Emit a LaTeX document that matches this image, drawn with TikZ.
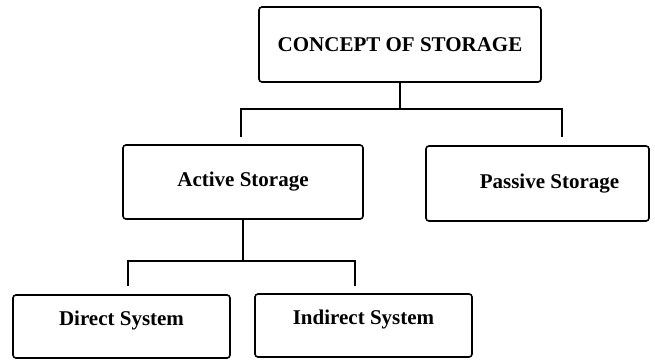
\documentclass[tikz,border=0pt]{standalone}
\usepackage{fontspec}
\setmainfont{Liberation Serif}

\begin{document}
\begin{tikzpicture}[x=1pt, y=-1pt,
    box/.style={draw, line width=1.6pt, rounded corners=3pt, inner sep=2pt,
      font=\fontsize{21}{25}\selectfont\bfseries},
    link/.style={line width=1.6pt}]
  \useasboundingbox (0,0) rectangle (655,360);

  % Top level
  \node[box, minimum width=282, minimum height=75] (concept) at (400,44.5) {CONCEPT OF STORAGE};

  % Second level
  \node[box, minimum width=240, minimum height=74] (active) at (243,182) {Active Storage};
  \node[box, minimum width=223, minimum height=75] (passive) at (537.5,183.5) {\hspace*{24pt}Passive Storage};

  % Third level
  \node[box, minimum width=217, minimum height=63, text depth=16pt] (direct) at (121.5,326.5) {Direct System};
  \node[box, minimum width=217, minimum height=63, text depth=16pt] (indirect) at (363.5,325.5) {Indirect System};

  % Connections from top to second level
  \coordinate (activeTop) at (241,137);
  \coordinate (passiveTop) at (562,137);
  \draw[link] (concept.south) -- ++(0,26) coordinate (split1);
  \draw[link] (activeTop) |- (split1) -| (passiveTop);

  % Connections from active storage to third level
  \coordinate (directTop) at (128,286);
  \coordinate (indirectTop) at (355,286);
  \draw[link] (active.south) -- ++(0,41) coordinate (split2);
  \draw[link] (directTop) |- (split2) -| (indirectTop);
\end{tikzpicture}
\end{document}
